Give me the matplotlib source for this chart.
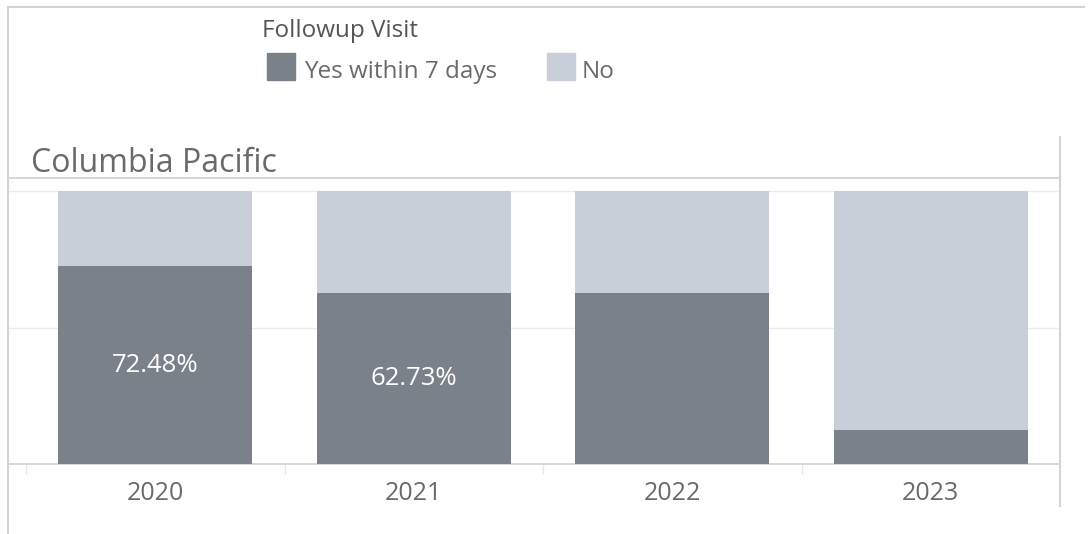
import matplotlib
matplotlib.use("Agg")
import matplotlib.pyplot as plt
from matplotlib.lines import Line2D
from matplotlib.patches import Rectangle

# Data
years = ["2020", "2021", "2022", "2023"]
yes_within_7 = [72.48, 62.73, 62.6, 12.45]
labelled = [True, True, False, False]
legend_title = "Followup Visit"
series_names = ["Yes within 7 days", "No"]
panel_title = "Columbia Pacific"

DARK = "#7b8189"
LIGHT = "#c9cfd8"
LINE = "#d4d4d4"
GRID = "#ececec"
TEXT = "#6a6a6a"

W, H = 1092, 534
plt.rcParams["font.family"] = ["Open Sans", "DejaVu Sans"]

fig = plt.figure(figsize=(W / 100, H / 100), dpi=100)


def fx(px):
    return px / W


def fy(py):
    return 1 - py / H


# Plot pane: x from 8 to 1060 px, y from 178 to 464 px
ax = fig.add_axes([fx(8), fy(464), fx(1060) - fx(8), fy(178) - fy(464)])
band = 258.5
left_lim = (8 - (26 + band / 2)) / band
ax.set_xlim(left_lim, 3.5)
ymax = (464 - 178) / 273 * 100
ax.set_ylim(0, ymax)

x = list(range(len(years)))
no_vals = [100 - v for v in yes_within_7]
ax.bar(x, yes_within_7, width=0.75, color=DARK, zorder=3, linewidth=0)
ax.bar(x, no_vals, bottom=yes_within_7, width=0.75, color=LIGHT, zorder=3, linewidth=0)

for xi, v, show in zip(x, yes_within_7, labelled):
    if show:
        ax.text(xi, v / 2, f"{v:.2f}%", ha="center", va="center",
                color="white", fontsize=18.5, zorder=4)

for gy in (50, 100):
    ax.axhline(gy, color=GRID, linewidth=1.0, zorder=1)

for side in ("left", "right"):
    ax.spines[side].set_visible(False)
ax.spines["top"].set_color(LINE)
ax.spines["top"].set_linewidth(1.3)
ax.spines["bottom"].set_color(LINE)
ax.spines["bottom"].set_linewidth(1.3)

ax.set_yticks([])
ax.set_xticks(x)
ax.set_xticklabels(years, fontsize=18, color=TEXT)
ax.tick_params(axis="x", which="major", length=0, pad=12.5)
ax.set_xticks([-0.5, 0.5, 1.5, 2.5], minor=True)
ax.tick_params(axis="x", which="minor", length=7, color="#e6e6e6", width=1)

# Frame lines around the view
fig.add_artist(Line2D([fx(8), fx(8)], [fy(7), fy(534)], color=LINE, linewidth=1.5))
fig.add_artist(Line2D([fx(8), fx(1084)], [fy(7), fy(7)], color=LINE, linewidth=1.5))
fig.add_artist(Line2D([fx(1060), fx(1060)], [fy(137), fy(506)], color=LINE, linewidth=1.5))

# Panel title
fig.text(fx(31), fy(172), panel_title, fontsize=23, color=TEXT, va="baseline", ha="left")

# Legend
fig.text(fx(262), fy(37), legend_title, fontsize=17.5, color="#555555", va="baseline", ha="left")
fig.add_artist(Rectangle((fx(267), fy(80)), fx(28), 27 / H, color=DARK,
                         transform=fig.transFigure))
fig.text(fx(304), fy(78), series_names[0], fontsize=17.5, color=TEXT, va="baseline", ha="left")
fig.add_artist(Rectangle((fx(547), fy(80)), fx(28), 27 / H, color=LIGHT,
                         transform=fig.transFigure))
fig.text(fx(582), fy(78), series_names[1], fontsize=17.5, color=TEXT, va="baseline", ha="left")

fig.savefig("out.png", dpi=100)
